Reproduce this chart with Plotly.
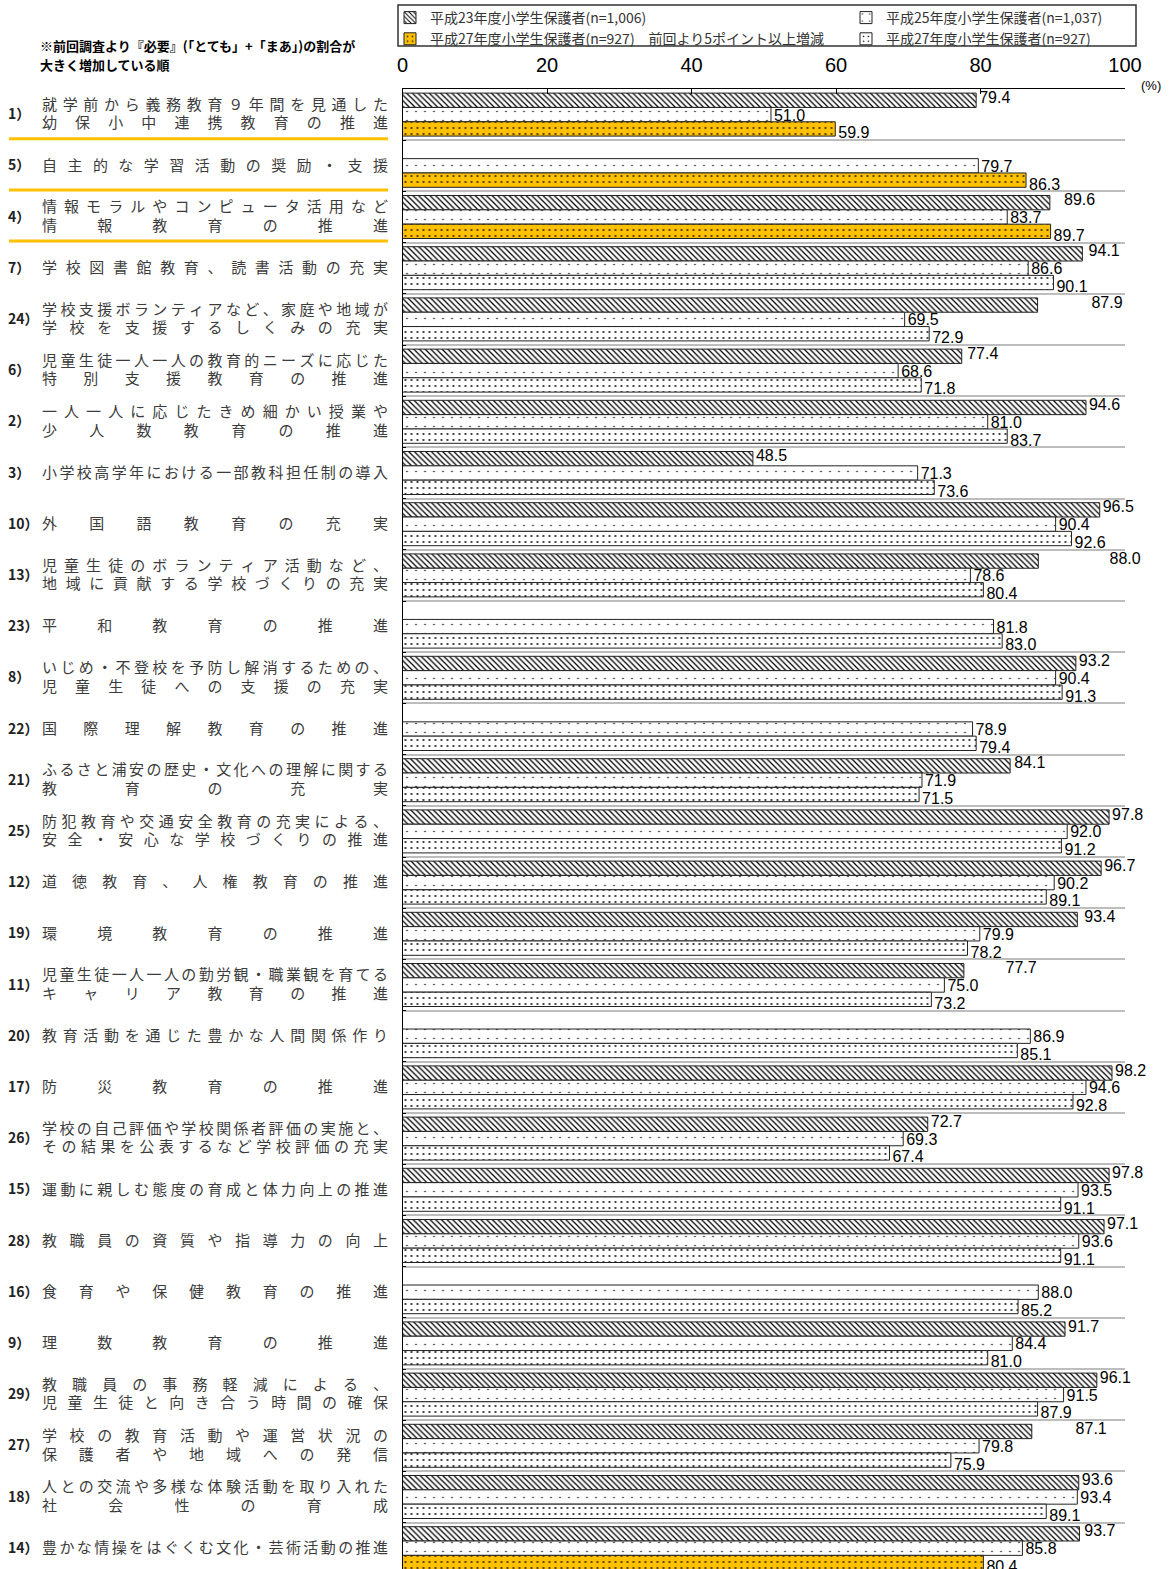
import plotly.graph_objects as go

# ---------------- data ----------------
numbers = ["1）", "5）", "4）", "7）", "24）", "6）", "2）", "3）", "10）", "13）",
           "23）", "8）", "22）", "21）", "25）", "12）", "19）", "11）", "20）", "17）",
           "26）", "15）", "28）", "16）", "9）", "29）", "27）", "18）", "14）"]

label_lines = [
    ["就学前から義務教育９年間を見通した", "幼保小中連携教育の推進"],
    ["自主的な学習活動の奨励・支援"],
    ["情報モラルやコンピュータ活用など", "情報教育の推進"],
    ["学校図書館教育、読書活動の充実"],
    ["学校支援ボランティアなど、家庭や地域が", "学校を支援するしくみの充実"],
    ["児童生徒一人一人の教育的ニーズに応じた", "特別支援教育の推進"],
    ["一人一人に応じたきめ細かい授業や", "少人数教育の推進"],
    ["小学校高学年における一部教科担任制の導入"],
    ["外国語教育の充実"],
    ["児童生徒のボランティア活動など、", "地域に貢献する学校づくりの充実"],
    ["平和教育の推進"],
    ["いじめ・不登校を予防し解消するための、", "児童生徒への支援の充実"],
    ["国際理解教育の推進"],
    ["ふるさと浦安の歴史・文化への理解に関する", "教育の充実"],
    ["防犯教育や交通安全教育の充実による、", "安全・安心な学校づくりの推進"],
    ["道徳教育、人権教育の推進"],
    ["環境教育の推進"],
    ["児童生徒一人一人の勤労観・職業観を育てる", "キャリア教育の推進"],
    ["教育活動を通じた豊かな人間関係作り"],
    ["防災教育の推進"],
    ["学校の自己評価や学校関係者評価の実施と、", "その結果を公表するなど学校評価の充実"],
    ["運動に親しむ態度の育成と体力向上の推進"],
    ["教職員の資質や指導力の向上"],
    ["食育や保健教育の推進"],
    ["理数教育の推進"],
    ["教職員の事務軽減による、", "児童生徒と向き合う時間の確保"],
    ["学校の教育活動や運営状況の", "保護者や地域への発信"],
    ["人との交流や多様な体験活動を取り入れた", "社会性の育成"],
    ["豊かな情操をはぐくむ文化・芸術活動の推進"],
]

h23 = [79.4, None, 89.6, 94.1, 87.9, 77.4, 94.6, 48.5, 96.5, 88.0,
       None, 93.2, None, 84.1, 97.8, 96.7, 93.4, 77.7, None, 98.2,
       72.7, 97.8, 97.1, None, 91.7, 96.1, 87.1, 93.6, 93.7]
h25 = [51.0, 79.7, 83.7, 86.6, 69.5, 68.6, 81.0, 71.3, 90.4, 78.6,
       81.8, 90.4, 78.9, 71.9, 92.0, 90.2, 79.9, 75.0, 86.9, 94.6,
       69.3, 93.5, 93.6, 88.0, 84.4, 91.5, 79.8, 93.4, 85.8]
h27 = [59.9, 86.3, 89.7, 90.1, 72.9, 71.8, 83.7, 73.6, 92.6, 80.4,
       83.0, 91.3, 79.4, 71.5, 91.2, 89.1, 78.2, 73.2, 85.1, 92.8,
       67.4, 91.1, 91.1, 85.2, 81.0, 87.9, 75.9, 89.1, 80.4]
# rows whose 『必要』 share rose by 5 points or more
highlight = [True, True, True, False, False, False, False, False, False, False,
             False, False, False, False, False, False, False, False, False, False,
             False, False, False, False, False, False, False, False, True]

series_names = ["平成23年度小学生保護者(n=1,006)",
                "平成25年度小学生保護者(n=1,037)",
                "平成27年度小学生保護者(n=927)　前回より5ポイント以上増減",
                "平成27年度小学生保護者(n=927)"]
x_ticks = [0, 20, 40, 60, 80, 100]
note_lines = ["※前回調査より『必要』(「とても」+「まあ」)の割合が", "大きく増加している順"]

# ---------------- layout constants ----------------
W, H = 1172, 1569
PL, PR, PT = 402.5, 1125.0, 89.0
GROUP = 51.2
BAR = 0.28
PLOT_H = H - PT
n = len(numbers)
y_max = PLOT_H / GROUP
unit = (PR - PL) / 100.0

def px2paperx(px):
    return px / PR

def px2papery(py):
    return 1 + (PT - py) / PLOT_H

CJK = "Noto Sans CJK JP"
NUMF = "Liberation Sans"
ORANGE = "#FFC000"

centers = [i + 0.5 for i in range(n)]
y23 = [c - BAR for c in centers]
y25 = centers
y27 = [c + BAR for c in centers]

h27_hi = [v if hl else None for v, hl in zip(h27, highlight)]
h27_lo = [None if hl else v for v, hl in zip(h27, highlight)]

pat_hatch = dict(shape="\\", size=4, solidity=0.32, fgcolor="#000000", bgcolor="#ffffff", fillmode="replace")
pat_dot = dict(shape=".", size=9, solidity=0.025, fgcolor="#000000", bgcolor="#ffffff", fillmode="replace")
pat_dot2 = dict(shape=".", size=6, solidity=0.08, fgcolor="#000000", bgcolor="#ffffff", fillmode="replace")
pat_dot2o = dict(shape=".", size=6, solidity=0.1, fgcolor="#3a2a00", bgcolor=ORANGE, fillmode="replace")

line = dict(color="#222222", width=1)

fig = go.Figure()
fig.add_trace(go.Bar(x=h23, y=y23, orientation="h", width=BAR, name=series_names[0],
                     marker=dict(color="white", line=line, pattern=pat_hatch),
                     legendwidth=411, hoverinfo="skip"))
fig.add_trace(go.Bar(x=h25, y=y25, orientation="h", width=BAR, name=series_names[1],
                     marker=dict(color="white", line=line, pattern=pat_dot), hoverinfo="skip"))
fig.add_trace(go.Bar(x=h27_hi, y=y27, orientation="h", width=BAR, name=series_names[2],
                     marker=dict(color=ORANGE, line=line, pattern=pat_dot2o),
                     legendwidth=411, hoverinfo="skip"))
fig.add_trace(go.Bar(x=h27_lo, y=y27, orientation="h", width=BAR, name=series_names[3],
                     marker=dict(color="white", line=line, pattern=pat_dot2), hoverinfo="skip"))

# value labels: staircase vertical offsets, push right when touching the previous label
LBL_FS = 16
LBL_W = 32.0
stair = [-1.5, 2.0, 5.5]
lab_x, lab_y, lab_t = [], [], []
prev = None
for i in range(n):
    for k, (vals, ys) in enumerate(((h23, y23), (h25, y25), (h27, y27))):
        v = vals[i]
        if v is None:
            continue
        y_px = PT + ys[i] * GROUP + stair[k]
        x_px = PL + v * unit + 3
        if prev is not None:
            px_, py_ = prev
            if abs(y_px - py_) < 17 and abs(x_px - px_) < LBL_W + 2:
                cand = px_ + LBL_W + 3
                if cand + LBL_W <= W - 2:
                    x_px = cand
        prev = (x_px, y_px)
        lab_x.append((x_px - PL) / unit)
        lab_y.append((y_px - PT) / GROUP)
        lab_t.append("%.1f" % v)
fig.add_trace(go.Scatter(
    x=lab_x, y=lab_y, mode="text", text=lab_t, textposition="middle right",
    textfont=dict(family=NUMF, size=LBL_FS, color="#000000"),
    cliponaxis=False, showlegend=False, hoverinfo="skip"))

# category labels (justified, one glyph per text point) on a pixel-scaled side axis
CH = 15.0
L_px, R_px = 42.0, 388.0
cx, cy, ct = [], [], []
for i, lines in enumerate(label_lines):
    offs = [1.0] if len(lines) == 1 else [-8.5, 10.0]
    for ln, off in zip(lines, offs):
        m = len(ln)
        step = (R_px - L_px - CH) / (m - 1) if m > 1 else 0
        for j, ch in enumerate(ln):
            cx.append(L_px + CH / 2 + j * step)
            cy.append(centers[i] + off / GROUP)
            ct.append(ch)
fig.add_trace(go.Scatter(x=cx, y=cy, text=ct, mode="text", textposition="middle center",
                         textfont=dict(family=CJK, size=CH, color="#3c3c3c"),
                         xaxis="x2", yaxis="y2",
                         cliponaxis=False, showlegend=False, hoverinfo="skip"))
fig.add_trace(go.Scatter(x=[8] * n, y=[c + 1.0 / GROUP for c in centers], text=numbers,
                         mode="text", textposition="middle right",
                         textfont=dict(family=CJK, size=14, color="#222222", weight="bold"),
                         xaxis="x2", yaxis="y2",
                         cliponaxis=False, showlegend=False, hoverinfo="skip"))

# orange underline for highlighted rows
shapes = []
for i, hl in enumerate(highlight):
    if hl:
        yy = i + 1 - 1.5 / GROUP
        shapes.append(dict(type="line", xref="x2", yref="y2", x0=9, x1=388, y0=yy, y1=yy,
                           line=dict(color=ORANGE, width=3)))
# legend frame
shapes.append(dict(type="rect", xref="paper", yref="paper",
                   x0=px2paperx(398), x1=px2paperx(1136), y0=px2papery(46), y1=px2papery(5),
                   line=dict(color="#333333", width=1.5), fillcolor="rgba(0,0,0,0)"))

annotations = [
    dict(xref="paper", yref="paper", x=px2paperx(38), y=px2papery(45), text=note_lines[0],
         showarrow=False, xanchor="left", yanchor="middle",
         font=dict(family=CJK, size=13, color="#000000", weight="bold")),
    dict(xref="paper", yref="paper", x=px2paperx(38), y=px2papery(64), text=note_lines[1],
         showarrow=False, xanchor="left", yanchor="middle",
         font=dict(family=CJK, size=13, color="#000000", weight="bold")),
    dict(xref="paper", yref="paper", x=px2paperx(1151), y=px2papery(86), text="(%)",
         showarrow=False, xanchor="center", yanchor="middle",
         font=dict(family=NUMF, size=13, color="#000000")),
]

fig.update_layout(
    width=W, height=H,
    margin=dict(l=0, r=W - PR, t=PT, b=0, autoexpand=False),
    paper_bgcolor="white", plot_bgcolor="rgba(0,0,0,0)",
    barmode="overlay",
    showlegend=True,
    legend=dict(orientation="h", x=px2paperx(390), xanchor="left",
                y=px2papery(2), yanchor="top", traceorder="normal",
                font=dict(family=CJK, size=14, color="#333333"),
                bgcolor="rgba(0,0,0,0)", borderwidth=0, itemwidth=30, tracegroupgap=0),
    xaxis=dict(domain=[PL / PR, 1], range=[0, 100], side="top", tickvals=x_ticks,
               ticks="inside", ticklen=5, anchor="y",
               tickcolor="#000000", showline=True, linecolor="#000000", linewidth=1,
               showgrid=False, zeroline=False, ticklabelstandoff=8,
               tickfont=dict(family=NUMF, size=20, color="#000000"), fixedrange=True),
    yaxis=dict(range=[y_max, 0], tickvals=list(range(1, n)), ticks="inside", ticklen=3,
               anchor="x", tickcolor="#000000", showticklabels=False, showgrid=True,
               gridcolor="#bdbdbd", gridwidth=1.5, showline=True, linecolor="#000000",
               linewidth=1, zeroline=False, fixedrange=True),
    xaxis2=dict(domain=[0, PL / PR - 0.002], range=[0, PL * (PL / PR - 0.002) / (PL / PR)],
                visible=False, anchor="y2", fixedrange=True),
    yaxis2=dict(range=[y_max, 0], visible=False, anchor="x2", fixedrange=True),
    shapes=shapes, annotations=annotations,
)

fig.write_html("out.html", config={"displayModeBar": False},
               post_script="document.body.style.margin='0';")
